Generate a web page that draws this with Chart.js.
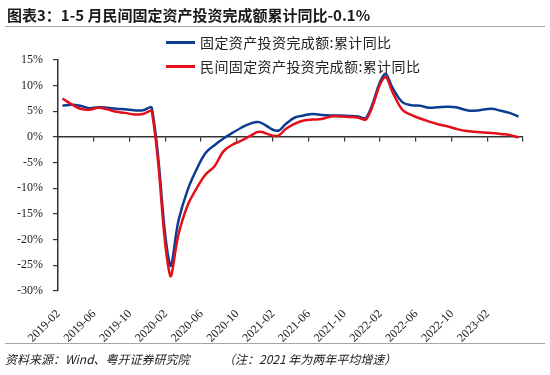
<!DOCTYPE html>
<html>
<head>
<meta charset="utf-8">
<script src="https://cdn.jsdelivr.net/npm/chart.js@4.4.1/dist/chart.umd.min.js"></script>
<style>
  body { margin: 0; background: #fff; }
  #wrap { position: relative; width: 550px; height: 375px; overflow: hidden; font-family: "Noto Sans CJK SC", sans-serif; }
  #chartBox { position: absolute; left: 0; top: 0; width: 550px; height: 375px; }
  #title { position: absolute; left: 7px; top: 4px; font-size: 15px; font-weight: bold; color: #1a1a1a; white-space: nowrap; }
  .rule { position: absolute; left: 5px; right: 5px; border-top: 1px solid #a6a6a6; }
  #legend { position: absolute; left: 166px; top: 30px; }
  .item { display: flex; align-items: center; height: 24px; font-size: 14px; color: #222; letter-spacing: 0.4px; white-space: nowrap; }
  .item i { display: inline-block; width: 29px; height: 3px; margin-right: 5px; }
  #source { position: absolute; left: 5px; top: 350px; font-size: 12px; font-style: italic; color: #222; white-space: nowrap; }
  #note { position: absolute; left: 223px; top: 350px; font-size: 12px; font-style: italic; color: #222; white-space: nowrap; }
</style>
</head>
<body>
<div id="wrap">
  <div id="chartBox"><canvas id="chart" width="550" height="375"></canvas></div>
  <div id="title">图表3：1-5 月民间固定资产投资完成额累计同比-0.1%</div>
  <div class="rule" style="top:26px"></div>
  <div id="legend"></div>
  <div class="rule" style="top:343px"></div>
  <div id="source">资料来源：Wind、粤开证券研究院</div>
  <div id="note">（注：2021 年为两年平均增速）</div>
</div>
<script>
// months 2019-02 .. 2023-05, January has no release (null)
const months = [
  "2019-02","2019-03","2019-04","2019-05","2019-06","2019-07","2019-08","2019-09","2019-10","2019-11","2019-12",
  "2020-01","2020-02","2020-03","2020-04","2020-05","2020-06","2020-07","2020-08","2020-09","2020-10","2020-11","2020-12",
  "2021-01","2021-02","2021-03","2021-04","2021-05","2021-06","2021-07","2021-08","2021-09","2021-10","2021-11","2021-12",
  "2022-01","2022-02","2022-03","2022-04","2022-05","2022-06","2022-07","2022-08","2022-09","2022-10","2022-11","2022-12",
  "2023-01","2023-02","2023-03","2023-04","2023-05"
];

// 固定资产投资完成额:累计同比 (%)
const fixedInvest = [
  6.1, 6.3, 6.1, 5.6, 5.8, 5.7, 5.5, 5.4, 5.2, 5.2, 5.6,
  null, -24.8, -16.1, -10.3, -6.3, -3.1, -1.6, -0.3, 0.8, 1.8, 2.6, 2.9,
  null, 1.2, 2.6, 3.8, 4.2, 4.5, 4.3, 4.2, 4.2, 4.1, 4.0, 3.8,
  null, 12.2, 9.3, 6.8, 6.2, 6.1, 5.7, 5.8, 5.9, 5.8, 5.3, 5.1,
  null, 5.5, 5.1, 4.7, 4.0
];

// 民间固定资产投资完成额:累计同比 (%)
const privateInvest = [
  7.5, 6.4, 5.5, 5.3, 5.7, 5.4, 4.9, 4.7, 4.4, 4.5, 4.9,
  null, -26.8, -18.8, -13.3, -10.0, -7.3, -5.7, -2.8, -1.5, -0.7, 0.2, 1.0,
  null, 0.2, 1.6, 2.6, 3.2, 3.4, 3.5, 4.0, 4.0, 3.9, 3.8, 3.5,
  null, 11.6, 8.4, 5.3, 4.3, 3.6, 3.0, 2.5, 2.1, 1.6, 1.2, 1.0,
  null, 0.8, 0.6, 0.4, -0.1
];

const seriesNames = ["固定资产投资完成额:累计同比", "民间固定资产投资完成额:累计同比"];
const seriesColors = ["#0b3d91", "#e3101c"];

const axisFont = { family: "'Liberation Serif', 'Times New Roman', serif", size: 12 };

// legend (stacked, drawn as html)
const legendEl = document.getElementById("legend");
seriesNames.forEach((name, i) => {
  const div = document.createElement("div");
  div.className = "item";
  div.innerHTML = `<i style="background:${seriesColors[i]}"></i>${name}`;
  legendEl.appendChild(div);
});

const ctx = document.getElementById("chart").getContext("2d");
new Chart(ctx, {
  type: "line",
  data: {
    labels: months,
    datasets: [
      {
        label: seriesNames[0],
        data: fixedInvest,
        borderColor: seriesColors[0],
        borderWidth: 2.5,
        order: 1,
      },
      {
        label: seriesNames[1],
        data: privateInvest,
        borderColor: seriesColors[1],
        borderWidth: 2.5,
        order: 0,
      },
    ],
  },
  options: {
    responsive: false,
    animation: false,
    layout: { padding: { left: 0, right: 27, top: 60, bottom: 0 } },
    elements: {
      point: { radius: 0 },
      line: { tension: 0.4, fill: false },
    },
    spanGaps: true,
    plugins: {
      legend: { display: false },
      tooltip: { enabled: false },
    },
    scales: {
      // zero line with tick marks every 4 months
      x: {
        type: "category",
        position: { y: 0 },
        offset: true,
        ticks: { display: false },
        grid: {
          offset: true,
          drawOnChartArea: false,
          drawTicks: true,
          tickLength: 4,
          lineWidth: 1.2,
          color: (c) =>
            c.index === undefined || c.index % 4 === 0 ? "#333" : "rgba(0,0,0,0)",
        },
        border: { display: true, color: "#333", width: 1.5 },
        afterFit: (s) => {
          s.height = 0;
        },
      },
      // bottom labels
      xl: {
        type: "category",
        position: "bottom",
        offset: true,
        grid: { display: false },
        border: { display: false },
        ticks: {
          autoSkip: false,
          maxRotation: 45,
          minRotation: 45,
          padding: 8,
          labelOffset: -4,
          color: "#222",
          font: axisFont,
          callback: function (v, i) {
            return i % 4 === 0 ? this.getLabelForValue(v) : "";
          },
        },
        afterFit: (s) => {
          s.height = 84;
        },
      },
      y: {
        min: -30,
        max: 15,
        ticks: {
          stepSize: 5,
          padding: 10,
          color: "#222",
          font: axisFont,
          callback: (v) => v + "%",
        },
        grid: {
          drawOnChartArea: false,
          drawTicks: true,
          tickLength: 5,
          color: "#333",
          lineWidth: 1.2,
        },
        border: { display: true, color: "#333", width: 1.5 },
        afterFit: (s) => {
          s.width = 58;
        },
      },
    },
  },
});
</script>
</body>
</html>
